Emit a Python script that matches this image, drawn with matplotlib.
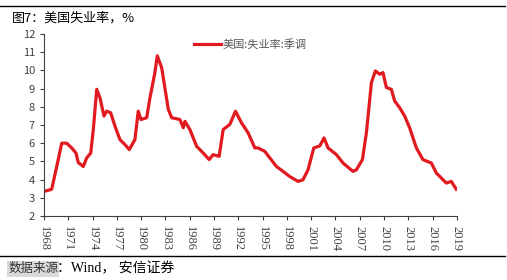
import matplotlib
matplotlib.use("Agg")
import matplotlib.pyplot as plt
import numpy as np

plt.rcParams['font.family'] = ['Noto Sans CJK SC', 'DejaVu Sans']

# 美国失业率（季调），位置按图上坐标读取
years = [1968.00, 1968.95, 1969.57, 1970.19, 1970.80, 1971.42, 1971.95, 1972.23,
         1972.85, 1973.27, 1973.77, 1974.09, 1974.51, 1974.91, 1975.41, 1975.74,
         1976.23, 1976.77, 1977.38, 1978.00, 1978.53, 1979.23, 1979.64, 1979.98,
         1980.68, 1981.09, 1981.70, 1981.99, 1982.53, 1983.35, 1983.77, 1984.79,
         1985.20, 1985.41, 1986.02, 1986.85, 1987.66, 1988.40, 1988.89, 1989.63,
         1990.13, 1990.95, 1991.65, 1992.39, 1993.21, 1994.04, 1994.44, 1995.27,
         1995.89, 1996.71, 1997.53, 1998.35, 1999.38, 1999.99, 2000.61, 2001.32,
         2002.06, 2002.59, 2003.08, 2004.12, 2004.93, 2006.17, 2006.59, 2007.33,
         2007.82, 2008.44, 2008.93, 2009.46, 2009.87, 2010.29, 2010.90, 2011.31,
         2011.93, 2012.55, 2013.16, 2013.99, 2014.80, 2015.84, 2016.46, 2017.69,
         2018.31, 2018.92]
rate = [3.35, 3.47, 4.72, 6.0, 6.0, 5.74, 5.46, 4.94,
        4.72, 5.19, 5.46, 6.75, 8.96, 8.5, 7.49, 7.76,
        7.67, 6.93, 6.2, 5.92, 5.65, 6.2, 7.76, 7.3,
        7.4, 8.5, 9.88, 10.8, 10.16, 7.86, 7.4, 7.3,
        6.85, 7.2, 6.75, 5.83, 5.46, 5.1, 5.37, 5.28,
        6.75, 7.03, 7.76, 7.12, 6.57, 5.74, 5.74, 5.55,
        5.19, 4.72, 4.45, 4.17, 3.9, 3.99, 4.54, 5.74,
        5.85, 6.29, 5.74, 5.37, 4.91, 4.45, 4.54, 5.1,
        6.57, 9.33, 9.97, 9.79, 9.88, 9.06, 8.96, 8.32,
        7.95, 7.49, 6.85, 5.74, 5.1, 4.91, 4.36, 3.81,
        3.9, 3.47]
tick_years = list(range(1968, 2020, 3))
series_name = "美国:失业率:季调"

fig = plt.figure(figsize=(5.07, 2.8), dpi=100)
ax = fig.add_axes([0.0868, 0.2286, 0.8144, 0.65])

ax.plot(years, rate, color="#E01A1F", lw=2.3, label=series_name)

ax.set_xlim(1968, 2019)
ax.set_ylim(2, 12)
ax.set_yticks(range(2, 13))
ax.set_xticks(tick_years)
ax.set_xticklabels([str(y) for y in tick_years], rotation=270,
                   fontfamily="Liberation Serif", fontsize=9, color="#404040")
ax.tick_params(axis="y", labelsize=8, labelcolor="#404040", length=3, color="#404040")
ax.tick_params(axis="x", length=3, color="#404040", pad=4)
for s in ["top", "right"]:
    ax.spines[s].set_visible(False)
for s in ["left", "bottom"]:
    ax.spines[s].set_color("#404040")

leg = ax.legend(loc="center", bbox_to_anchor=(0.5, 0.945), frameon=False,
                fontsize=8, handlelength=2.4, handletextpad=0.2)
for t in leg.get_texts():
    t.set_color("#595959")

fig.add_artist(plt.Line2D([0, 0.997], [0.978, 0.978], color="black", lw=1))
fig.add_artist(plt.Line2D([0, 0.997], [0.086, 0.086], color="black", lw=1))
fig.text(0.024, 0.935, "图7：美国失业率，%", fontsize=9.4, va="center")
fig.text(0.016, 0.04, "数据来源", fontsize=9, va="center", color="#333333",
         bbox=dict(facecolor="#D9D9D9", edgecolor="none", pad=1))
fig.text(0.113, 0.04, "：Wind， 安信证券", fontsize=10, va="center",
         family=["Liberation Serif", "Noto Sans CJK SC"])

fig.savefig("out.png", dpi=100)
